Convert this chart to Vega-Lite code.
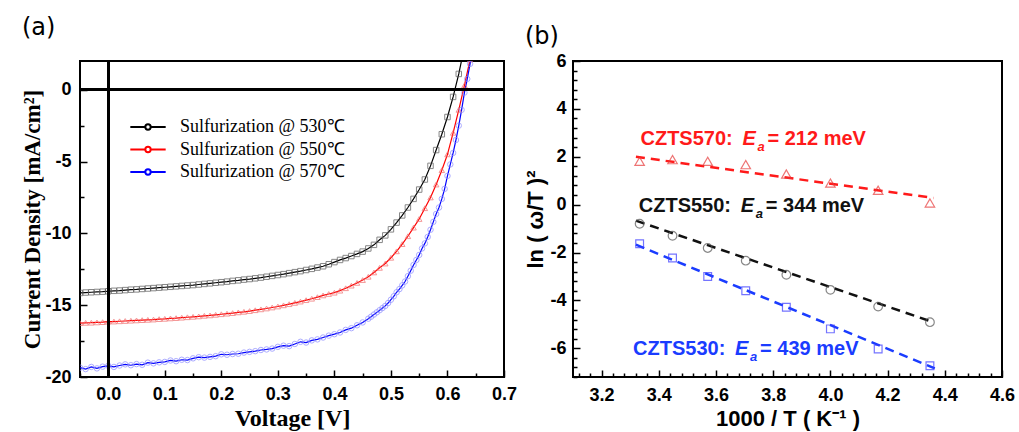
{
  "$schema": "https://vega.github.io/schema/vega-lite/v6.json",
  "background": "white",
  "padding": {"left": 20, "top": 15, "right": 5, "bottom": 0},
  "spacing": 5,
  "resolve": {"scale": {"shape": "independent", "stroke": "independent", "color": "independent", "size": "independent"}},
  "config": {
    "view": {"stroke": "black", "strokeWidth": 2},
    "axis": {"grid": false, "domain": false, "ticks": true, "tickCount": 200, "tickColor": "black", "tickWidth": 1.5, "labelColor": "black", "titleColor": "black", "labelFont": "Liberation Sans", "labelFontWeight": "bold", "labelFontSize": 18, "labelOverlap": false, "labelBound": false, "labelFlush": false}
  },
  "datasets": {
    "iv": [
      {"s":"530","V":-0.05,"J":-14.15},{"s":"530","V":-0.04,"J":-14.12},{"s":"530","V":-0.03,"J":-14.1},{"s":"530","V":-0.02,"J":-14.08},{"s":"530","V":-0.01,"J":-14.06},{"s":"530","V":0,"J":-14.03},{"s":"530","V":0.01,"J":-14.0},{"s":"530","V":0.02,"J":-13.98},{"s":"530","V":0.03,"J":-13.95},{"s":"530","V":0.04,"J":-13.92},{"s":"530","V":0.05,"J":-13.9},{"s":"530","V":0.06,"J":-13.87},{"s":"530","V":0.07,"J":-13.84},{"s":"530","V":0.08,"J":-13.81},{"s":"530","V":0.09,"J":-13.78},{"s":"530","V":0.1,"J":-13.75},{"s":"530","V":0.11,"J":-13.72},{"s":"530","V":0.12,"J":-13.69},{"s":"530","V":0.13,"J":-13.66},{"s":"530","V":0.14,"J":-13.63},{"s":"530","V":0.15,"J":-13.6},{"s":"530","V":0.16,"J":-13.56},{"s":"530","V":0.17,"J":-13.52},{"s":"530","V":0.18,"J":-13.48},{"s":"530","V":0.19,"J":-13.44},{"s":"530","V":0.2,"J":-13.4},{"s":"530","V":0.21,"J":-13.36},{"s":"530","V":0.22,"J":-13.31},{"s":"530","V":0.23,"J":-13.27},{"s":"530","V":0.24,"J":-13.22},{"s":"530","V":0.25,"J":-13.18},{"s":"530","V":0.26,"J":-13.13},{"s":"530","V":0.27,"J":-13.08},{"s":"530","V":0.28,"J":-13.02},{"s":"530","V":0.29,"J":-12.96},{"s":"530","V":0.3,"J":-12.9},{"s":"530","V":0.31,"J":-12.84},{"s":"530","V":0.32,"J":-12.77},{"s":"530","V":0.33,"J":-12.7},{"s":"530","V":0.34,"J":-12.63},{"s":"530","V":0.35,"J":-12.55},{"s":"530","V":0.36,"J":-12.47},{"s":"530","V":0.37,"J":-12.38},{"s":"530","V":0.38,"J":-12.29},{"s":"530","V":0.39,"J":-12.15},{"s":"530","V":0.4,"J":-12.0},{"s":"530","V":0.41,"J":-11.85},{"s":"530","V":0.42,"J":-11.72},{"s":"530","V":0.43,"J":-11.58},{"s":"530","V":0.44,"J":-11.43},{"s":"530","V":0.45,"J":-11.27},{"s":"530","V":0.46,"J":-11.05},{"s":"530","V":0.47,"J":-10.8},{"s":"530","V":0.48,"J":-10.45},{"s":"530","V":0.49,"J":-10.14},{"s":"530","V":0.5,"J":-9.72},{"s":"530","V":0.51,"J":-9.25},{"s":"530","V":0.52,"J":-8.75},{"s":"530","V":0.53,"J":-8.2},{"s":"530","V":0.54,"J":-7.6},{"s":"530","V":0.55,"J":-6.95},{"s":"530","V":0.56,"J":-6.25},{"s":"530","V":0.57,"J":-5.3},{"s":"530","V":0.58,"J":-4.2},{"s":"530","V":0.59,"J":-3.1},{"s":"530","V":0.6,"J":-1.9},{"s":"530","V":0.61,"J":-0.5},{"s":"530","V":0.62,"J":1.1},{"s":"530","V":0.63,"J":3.0},
      {"s":"550","V":-0.05,"J":-16.25},{"s":"550","V":-0.04,"J":-16.23},{"s":"550","V":-0.03,"J":-16.22},{"s":"550","V":-0.02,"J":-16.2},{"s":"550","V":-0.01,"J":-16.18},{"s":"550","V":0,"J":-16.15},{"s":"550","V":0.01,"J":-16.14},{"s":"550","V":0.02,"J":-16.12},{"s":"550","V":0.03,"J":-16.1},{"s":"550","V":0.04,"J":-16.08},{"s":"550","V":0.05,"J":-16.06},{"s":"550","V":0.06,"J":-16.04},{"s":"550","V":0.07,"J":-16.02},{"s":"550","V":0.08,"J":-16.0},{"s":"550","V":0.09,"J":-15.97},{"s":"550","V":0.1,"J":-15.95},{"s":"550","V":0.11,"J":-15.92},{"s":"550","V":0.12,"J":-15.9},{"s":"550","V":0.13,"J":-15.87},{"s":"550","V":0.14,"J":-15.84},{"s":"550","V":0.15,"J":-15.81},{"s":"550","V":0.16,"J":-15.78},{"s":"550","V":0.17,"J":-15.74},{"s":"550","V":0.18,"J":-15.71},{"s":"550","V":0.19,"J":-15.67},{"s":"550","V":0.2,"J":-15.63},{"s":"550","V":0.21,"J":-15.59},{"s":"550","V":0.22,"J":-15.55},{"s":"550","V":0.23,"J":-15.5},{"s":"550","V":0.24,"J":-15.46},{"s":"550","V":0.25,"J":-15.41},{"s":"550","V":0.26,"J":-15.35},{"s":"550","V":0.27,"J":-15.29},{"s":"550","V":0.28,"J":-15.23},{"s":"550","V":0.29,"J":-15.16},{"s":"550","V":0.3,"J":-15.09},{"s":"550","V":0.31,"J":-15.01},{"s":"550","V":0.32,"J":-14.93},{"s":"550","V":0.33,"J":-14.84},{"s":"550","V":0.34,"J":-14.75},{"s":"550","V":0.35,"J":-14.65},{"s":"550","V":0.36,"J":-14.55},{"s":"550","V":0.37,"J":-14.44},{"s":"550","V":0.38,"J":-14.32},{"s":"550","V":0.39,"J":-14.22},{"s":"550","V":0.4,"J":-14.13},{"s":"550","V":0.41,"J":-13.99},{"s":"550","V":0.42,"J":-13.82},{"s":"550","V":0.43,"J":-13.64},{"s":"550","V":0.44,"J":-13.45},{"s":"550","V":0.45,"J":-13.25},{"s":"550","V":0.46,"J":-13.02},{"s":"550","V":0.47,"J":-12.72},{"s":"550","V":0.48,"J":-12.4},{"s":"550","V":0.49,"J":-12.1},{"s":"550","V":0.5,"J":-11.7},{"s":"550","V":0.51,"J":-11.25},{"s":"550","V":0.52,"J":-10.75},{"s":"550","V":0.53,"J":-10.2},{"s":"550","V":0.54,"J":-9.6},{"s":"550","V":0.55,"J":-9.0},{"s":"550","V":0.56,"J":-8.25},{"s":"550","V":0.57,"J":-7.5},{"s":"550","V":0.58,"J":-6.6},{"s":"550","V":0.59,"J":-5.6},{"s":"550","V":0.6,"J":-4.5},{"s":"550","V":0.61,"J":-3.0},{"s":"550","V":0.62,"J":-1.4},{"s":"550","V":0.63,"J":0.3},{"s":"550","V":0.64,"J":2.1},
      {"s":"570","V":-0.05,"J":-19.35},{"s":"570","V":-0.04,"J":-19.45},{"s":"570","V":-0.03,"J":-19.3},{"s":"570","V":-0.02,"J":-19.4},{"s":"570","V":-0.01,"J":-19.28},{"s":"570","V":0,"J":-19.22},{"s":"570","V":0.01,"J":-19.3},{"s":"570","V":0.02,"J":-19.2},{"s":"570","V":0.03,"J":-19.12},{"s":"570","V":0.04,"J":-19.18},{"s":"570","V":0.05,"J":-19.1},{"s":"570","V":0.06,"J":-19.15},{"s":"570","V":0.07,"J":-19.0},{"s":"570","V":0.08,"J":-19.05},{"s":"570","V":0.09,"J":-18.98},{"s":"570","V":0.1,"J":-18.95},{"s":"570","V":0.11,"J":-18.85},{"s":"570","V":0.12,"J":-18.9},{"s":"570","V":0.13,"J":-18.8},{"s":"570","V":0.14,"J":-18.82},{"s":"570","V":0.15,"J":-18.7},{"s":"570","V":0.16,"J":-18.62},{"s":"570","V":0.17,"J":-18.65},{"s":"570","V":0.18,"J":-18.6},{"s":"570","V":0.19,"J":-18.55},{"s":"570","V":0.2,"J":-18.42},{"s":"570","V":0.21,"J":-18.45},{"s":"570","V":0.22,"J":-18.4},{"s":"570","V":0.23,"J":-18.38},{"s":"570","V":0.24,"J":-18.3},{"s":"570","V":0.25,"J":-18.25},{"s":"570","V":0.26,"J":-18.2},{"s":"570","V":0.27,"J":-18.12},{"s":"570","V":0.28,"J":-18.08},{"s":"570","V":0.29,"J":-18.02},{"s":"570","V":0.3,"J":-17.9},{"s":"570","V":0.31,"J":-17.82},{"s":"570","V":0.32,"J":-17.85},{"s":"570","V":0.33,"J":-17.7},{"s":"570","V":0.34,"J":-17.55},{"s":"570","V":0.35,"J":-17.6},{"s":"570","V":0.36,"J":-17.45},{"s":"570","V":0.37,"J":-17.38},{"s":"570","V":0.38,"J":-17.25},{"s":"570","V":0.39,"J":-17.12},{"s":"570","V":0.4,"J":-17.02},{"s":"570","V":0.41,"J":-16.9},{"s":"570","V":0.42,"J":-16.72},{"s":"570","V":0.43,"J":-16.6},{"s":"570","V":0.44,"J":-16.4},{"s":"570","V":0.45,"J":-16.2},{"s":"570","V":0.46,"J":-15.94},{"s":"570","V":0.465,"J":-15.8},{"s":"570","V":0.47,"J":-15.65},{"s":"570","V":0.475,"J":-15.5},{"s":"570","V":0.48,"J":-15.35},{"s":"570","V":0.485,"J":-15.2},{"s":"570","V":0.49,"J":-15.05},{"s":"570","V":0.495,"J":-14.85},{"s":"570","V":0.5,"J":-14.62},{"s":"570","V":0.505,"J":-14.38},{"s":"570","V":0.51,"J":-14.1},{"s":"570","V":0.515,"J":-13.88},{"s":"570","V":0.52,"J":-13.62},{"s":"570","V":0.525,"J":-13.35},{"s":"570","V":0.53,"J":-12.98},{"s":"570","V":0.535,"J":-12.6},{"s":"570","V":0.54,"J":-12.2},{"s":"570","V":0.545,"J":-11.85},{"s":"570","V":0.55,"J":-11.5},{"s":"570","V":0.555,"J":-11.05},{"s":"570","V":0.56,"J":-10.7},{"s":"570","V":0.565,"J":-10.25},{"s":"570","V":0.57,"J":-9.75},{"s":"570","V":0.575,"J":-9.2},{"s":"570","V":0.58,"J":-8.65},{"s":"570","V":0.585,"J":-8.2},{"s":"570","V":0.59,"J":-7.6},{"s":"570","V":0.595,"J":-6.9},{"s":"570","V":0.6,"J":-6.0},{"s":"570","V":0.605,"J":-5.2},{"s":"570","V":0.61,"J":-4.4},{"s":"570","V":0.615,"J":-3.5},{"s":"570","V":0.62,"J":-2.5},{"s":"570","V":0.625,"J":-1.4},{"s":"570","V":0.63,"J":-0.2},{"s":"570","V":0.635,"J":0.75},{"s":"570","V":0.64,"J":1.8},{"s":"570","V":0.645,"J":2.8}
    ],
    "pts": [
      {"s":"570","x":3.333,"y":1.81},{"s":"570","x":3.448,"y":1.88},{"s":"570","x":3.571,"y":1.81},{"s":"570","x":3.704,"y":1.67},{"s":"570","x":3.846,"y":1.28},{"s":"570","x":4.0,"y":0.9},{"s":"570","x":4.167,"y":0.6},{"s":"570","x":4.348,"y":0.07},
      {"s":"550","x":3.333,"y":-0.8},{"s":"550","x":3.448,"y":-1.3},{"s":"550","x":3.571,"y":-1.81},{"s":"550","x":3.704,"y":-2.34},{"s":"550","x":3.846,"y":-2.93},{"s":"550","x":4.0,"y":-3.56},{"s":"550","x":4.167,"y":-4.26},{"s":"550","x":4.348,"y":-4.91},
      {"s":"530","x":3.333,"y":-1.63},{"s":"530","x":3.448,"y":-2.23},{"s":"530","x":3.571,"y":-3.0},{"s":"530","x":3.704,"y":-3.6},{"s":"530","x":3.846,"y":-4.29},{"s":"530","x":4.0,"y":-5.19},{"s":"530","x":4.167,"y":-6.03},{"s":"530","x":4.348,"y":-6.73}
    ],
    "fit": [
      {"s":"570","x":3.32,"y":2.0},{"s":"570","x":4.36,"y":0.28},
      {"s":"550","x":3.32,"y":-0.67},{"s":"550","x":4.36,"y":-4.91},
      {"s":"530","x":3.32,"y":-1.67},{"s":"530","x":4.365,"y":-6.84}
    ],
    "ann": [
      {"s":"570","x":3.336,"y":2.51,"prefix":"CZTS570:","val":"= 212 meV"},
      {"s":"550","x":3.33,"y":-0.3,"prefix":"CZTS550:","val":"= 344 meV"},
      {"s":"530","x":3.31,"y":-6.27,"prefix":"CZTS530:","val":"= 439 meV"}
    ]
  },
  "hconcat": [
    {
      "width": 424,
      "height": 316,
      "title": {"text": "(a)", "anchor": "start", "frame": "bounds", "fontSize": 24, "fontWeight": "normal", "font": "DejaVu Sans", "color": "black", "offset": 20},
      "data": {"name": "iv"},
      "layer": [
        {
          "mark": {"type": "line", "strokeWidth": 1.2, "clip": true},
          "encoding": {
            "x": {"field": "V", "type": "quantitative", "scale": {"domain": [-0.05, 0.7], "nice": false, "zero": false},
              "axis": {"orient": "bottom", "title": "Voltage [V]", "titleFont": "Liberation Serif", "titleFontSize": 24, "titleFontWeight": "bold", "titlePadding": 3,
                "values": [0,0.1,0.2,0.3,0.4,0.5,0.6,0.7], "format": ".1f",
                "tickSize": -7, "labelPadding": 15}},
            "y": {"field": "J", "type": "quantitative", "scale": {"domain": [-20, 2], "nice": false, "zero": false},
              "axis": {"orient": "left", "title": "Current Density [mA/cm²]", "titleFont": "Liberation Serif", "titleFontSize": 23, "titleFontWeight": "bold", "titlePadding": 0,
                "values": [-20,-15,-10,-5,0],
                "labelExpr": "'' + datum.value",
                "tickSize": -7, "labelPadding": 16}},
            "color": {"field": "s", "type": "nominal", "scale": {"domain": ["530","550","570"], "range": ["#000000","#ff0000","#0000ff"]},
              "legend": {"orient": "none", "legendX": 59, "legendY": 57, "title": null, "padding": 0,
                "labelExpr": "'Sulfurization @ ' + datum.label + '℃'", "labelLimit": 400,
                "labelFont": "Liberation Serif", "labelFontSize": 18, "labelColor": "black", "labelOffset": 23,
                "symbolType": "M-2.5,0H-0.38M0.38,0H2.5M0.38,0A0.38,0.38 0 1,1 -0.38,0A0.38,0.38 0 1,1 0.38,0",
                "symbolSize": 200, "symbolStrokeWidth": 2, "rowPadding": 4.5}},
            "order": {"field": "V", "type": "quantitative"}
          }
        },
        {
          "mark": {"type": "point", "filled": false, "strokeWidth": 1, "size": 30, "clip": true},
          "encoding": {
            "x": {"field": "V", "type": "quantitative",
              "axis": {"orient": "bottom", "title": null, "labels": false, "values": [-0.05,0.05,0.15,0.25,0.35,0.45,0.55,0.65], "tickSize": -4}},
            "y": {"field": "J", "type": "quantitative",
              "axis": {"orient": "left", "title": null, "labels": false, "values": [-17.5,-12.5,-7.5,-2.5], "tickSize": -4}},
            "shape": {"field": "s", "type": "nominal", "scale": {"domain": ["530","550","570"], "range": ["square","triangle-up","circle"]}, "legend": null},
            "stroke": {"field": "s", "type": "nominal", "scale": {"domain": ["530","550","570"], "range": ["#555555","#f06a6a","#8a8aff"]}, "legend": null}
          }
        },
        {
          "mark": {"type": "rule", "color": "black", "strokeWidth": 2},
          "encoding": {"y": {"datum": 0, "type": "quantitative", "axis": null}}
        },
        {
          "mark": {"type": "rule", "color": "black", "strokeWidth": 2},
          "encoding": {"x": {"datum": 0, "type": "quantitative", "axis": null}}
        }
      ],
      "resolve": {"scale": {"color": "independent", "stroke": "independent"}, "axis": {"x": "independent", "y": "independent"}}
    },
    {
      "width": 429,
      "height": 316,
      "title": {"text": "(b)", "anchor": "start", "frame": "bounds", "fontSize": 24, "fontWeight": "normal", "font": "DejaVu Sans", "color": "black", "offset": 3},
      "layer": [
        {
          "data": {"name": "fit"},
          "mark": {"type": "line", "strokeWidth": 2.5, "strokeDash": [9, 6]},
          "encoding": {
            "x": {"field": "x", "type": "quantitative", "scale": {"domain": [3.1, 4.6], "nice": false, "zero": false},
              "axis": {"orient": "bottom", "title": "1000 / T ( K⁻¹ )", "titleFont": "Liberation Sans", "titleFontSize": 22, "titleFontWeight": "bold", "titlePadding": 4,
                "values": [3.2,3.4,3.6,3.8,4.0,4.2,4.4,4.6], "format": ".1f",
                "tickSize": -7, "labelPadding": 16}},
            "y": {"field": "y", "type": "quantitative", "scale": {"domain": [-7.2, 6], "nice": false, "zero": false},
              "axis": {"orient": "left", "title": "ln ( ω/T )²", "titleFont": "Liberation Sans", "titleFontSize": 22, "titleFontWeight": "bold", "titlePadding": 2,
                "values": [-6,-4,-2,0,2,4,6],
                "labelExpr": "'' + datum.value",
                "tickSize": -7, "labelPadding": 14}},
            "color": {"field": "s", "type": "nominal", "scale": {"domain": ["570","550","530"], "range": ["#ff1a1a","#111111","#1a3cff"]}, "legend": null}
          }
        },
        {
          "data": {"name": "pts"},
          "mark": {"type": "point", "filled": false, "strokeWidth": 1.2},
          "encoding": {
            "x": {"field": "x", "type": "quantitative",
              "axis": {"orient": "bottom", "title": null, "labels": false, "tickSize": -4,
                "values": [3.12,3.16,3.24,3.28,3.32,3.36,3.44,3.48,3.52,3.56,3.64,3.68,3.72,3.76,3.84,3.88,3.92,3.96,4.04,4.08,4.12,4.16,4.24,4.28,4.32,4.36,4.44,4.48,4.52,4.56]}},
            "y": {"field": "y", "type": "quantitative",
              "axis": {"orient": "left", "title": null, "labels": false, "tickSize": -4,
                "values": [-7.2,-6.8,-6.4,-5.6,-5.2,-4.8,-4.4,-3.6,-3.2,-2.8,-2.4,-1.6,-1.2,-0.8,-0.4,0.4,0.8,1.2,1.6,2.4,2.8,3.2,3.6,4.4,4.8,5.2,5.6]}},
            "shape": {"field": "s", "type": "nominal", "scale": {"domain": ["570","550","530"], "range": ["triangle-up","circle","square"]}, "legend": null},
            "size": {"field": "s", "type": "nominal", "scale": {"domain": ["570","550","530"], "range": [90, 60, 50]}, "legend": null},
            "stroke": {"field": "s", "type": "nominal", "scale": {"domain": ["570","550","530"], "range": ["#e83a3a","#555555","#3a3aff"]}, "legend": null}
          }
        },
        {
          "data": {"name": "ann"},
          "mark": {"type": "text", "align": "left", "baseline": "alphabetic", "font": "Liberation Sans", "fontWeight": "bold", "fontSize": 20},
          "encoding": {
            "x": {"field": "x", "type": "quantitative", "axis": null},
            "y": {"field": "y", "type": "quantitative", "axis": null},
            "text": {"field": "prefix"},
            "color": {"field": "s", "type": "nominal", "legend": null}
          }
        },
        {
          "data": {"name": "ann"},
          "mark": {"type": "text", "align": "left", "baseline": "alphabetic", "font": "Liberation Sans", "fontWeight": "bold", "fontStyle": "italic", "fontSize": 20, "dx": 102},
          "encoding": {
            "x": {"field": "x", "type": "quantitative", "axis": null},
            "y": {"field": "y", "type": "quantitative", "axis": null},
            "text": {"value": "E"},
            "color": {"field": "s", "type": "nominal", "legend": null}
          }
        },
        {
          "data": {"name": "ann"},
          "mark": {"type": "text", "align": "left", "baseline": "alphabetic", "font": "Liberation Sans", "fontWeight": "bold", "fontStyle": "italic", "fontSize": 13, "dx": 117, "dy": 6},
          "encoding": {
            "x": {"field": "x", "type": "quantitative", "axis": null},
            "y": {"field": "y", "type": "quantitative", "axis": null},
            "text": {"value": "a"},
            "color": {"field": "s", "type": "nominal", "legend": null}
          }
        },
        {
          "data": {"name": "ann"},
          "mark": {"type": "text", "align": "left", "baseline": "alphabetic", "font": "Liberation Sans", "fontWeight": "bold", "fontSize": 20, "dx": 127},
          "encoding": {
            "x": {"field": "x", "type": "quantitative", "axis": null},
            "y": {"field": "y", "type": "quantitative", "axis": null},
            "text": {"field": "val"},
            "color": {"field": "s", "type": "nominal", "legend": null}
          }
        }
      ],
      "resolve": {"axis": {"x": "independent", "y": "independent"}}
    }
  ]
}
